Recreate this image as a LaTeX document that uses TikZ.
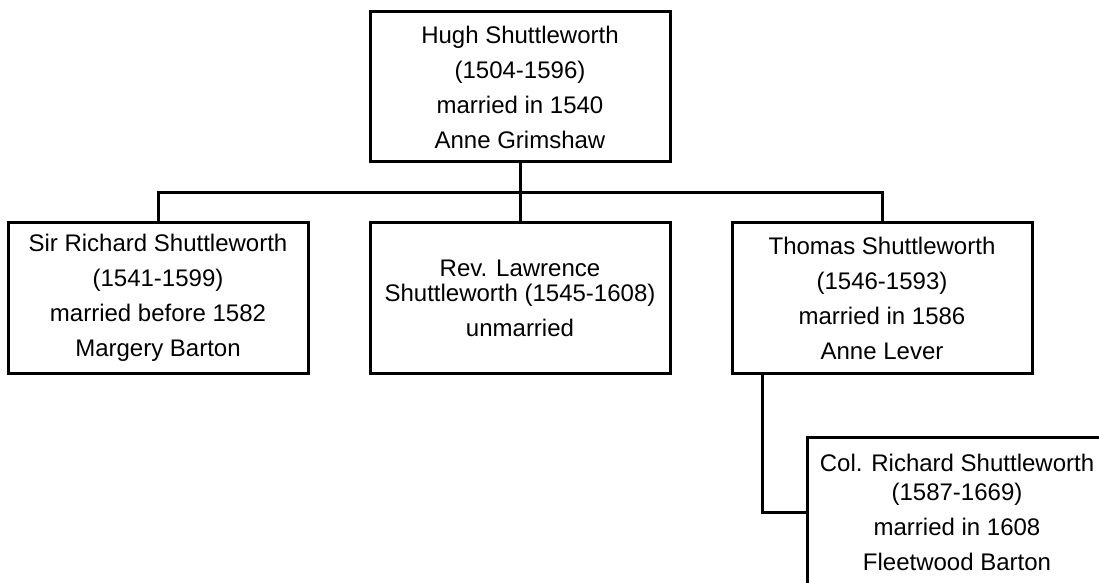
\documentclass[tikz,border=0pt]{standalone}
\usepackage{fontspec}
\setmainfont{Liberation Sans}
\begin{document}
\begin{tikzpicture}[x=0.5pt, y=-0.5pt, personStyle/.style={rectangle, draw, line width=1.5pt, minimum width=150pt, minimum height=75pt, inner sep=0pt, align=center, font=\fontsize{12}{14.5}\selectfont}, lineStyle/.style={line width=1.5pt}]
                    \useasboundingbox (0, 0) rectangle (1099, 583);

                    \node[personStyle] (root) at (520, 87) {Hugh Shuttleworth\\[3pt](1504-1596)\\[3pt]married in 1540\\[3pt]Anne Grimshaw};

                    \node[personStyle] (child_1) at (158, 298) {Sir Richard Shuttleworth\\[3pt](1541-1599)\\[3pt]married before 1582\\[3pt]Margery Barton};
                    \node[personStyle] (child_2) at (520, 298) {Rev. Lawrence\\[-2pt]Shuttleworth (1545-1608)\\[3pt]unmarried};
                    \node[personStyle] (child_3) at (882, 298) {Thomas Shuttleworth\\[3pt](1546-1593)\\[3pt]married in 1586\\[3pt]Anne Lever};

                    \node[personStyle] (grand_1) at (957, 512) {Col. Richard Shuttleworth\\(1587-1669)\\[3pt]married in 1608\\[3pt]Fleetwood Barton};

                    \coordinate (fork) at (520, 193);
                    \draw[lineStyle] (root.south) -- (child_2.north);
                    \draw[lineStyle] (child_1.north) |- (fork) -| (child_3.north);
                    \draw[lineStyle] ([xshift=-60pt]child_3.south) |- (grand_1.west);
                \end{tikzpicture}
\end{document}
